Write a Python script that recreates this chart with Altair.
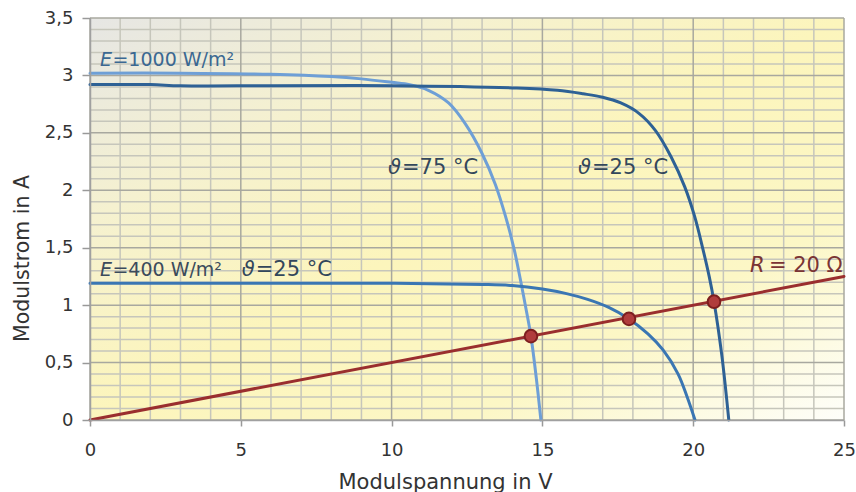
import altair as alt
import pandas as pd

# ---- data ----
# E = 1000 W/m², theta = 75 °C
u75 = [0, 3, 6, 8, 9, 10, 10.6, 11.22, 11.89, 12.44, 13.0, 13.44, 13.78, 14.06, 14.28, 14.44, 14.62, 14.8, 14.95]
i75 = [3.02, 3.02, 3.01, 2.99, 2.97, 2.94, 2.92, 2.87, 2.76, 2.58, 2.32, 2.05, 1.77, 1.49, 1.21, 0.99, 0.73, 0.36, 0.0]
# E = 1000 W/m², theta = 25 °C
u25 = [0, 2, 3, 6, 10, 14.15, 15.5, 16.35, 17.0, 17.6, 18.2, 18.75, 19.27, 19.72, 20.05, 20.32, 20.53, 20.69, 20.95, 21.18]
i25 = [2.92, 2.92, 2.91, 2.91, 2.91, 2.89, 2.87, 2.84, 2.81, 2.76, 2.67, 2.52, 2.29, 2.03, 1.77, 1.49, 1.25, 1.03, 0.56, 0.0]
# E = 400 W/m², theta = 25 °C
u400 = [0, 5, 10, 13, 14, 15, 15.8, 16.5, 17.2, 17.87, 18.5, 19.0, 19.5, 19.8, 20.06]
i400 = [1.19, 1.19, 1.19, 1.18, 1.17, 1.14, 1.10, 1.05, 0.98, 0.88, 0.75, 0.61, 0.40, 0.20, 0.0]
# load line R = 20 Ohm
u_r = [0, 25]
i_r = [0, 1.25]
# operating points
u_op = [14.62, 17.87, 20.69]
i_op = [0.73, 0.88, 1.03]

# tick / grid values
x_major = [0, 5, 10, 15, 20, 25]
x_minor = [v for v in range(0, 26) if v % 5 != 0]
y_major = [0, 0.5, 1, 1.5, 2, 2.5, 3, 3.5]
y_minor = [round(k * 0.1, 1) for k in range(0, 36) if k % 5 != 0]

# annotations
ann_e_u = [0.33, 0.33]
ann_e_i = [3.13, 1.305]
ann_e_rest = ["=1000  W/m²", "=400 W/m²"]
ann_t_u = [5.03, 9.88, 16.18]
ann_t_i = [1.305, 2.19, 2.19]
ann_t_rest = ["=25 °C", "=75 °C", "=25 °C"]
ann_r_u = [21.88]
ann_r_i = [1.34]

W, H = 754, 402
FONT = "DejaVu Sans"

xs = alt.Scale(domain=[0, 25], nice=False, zero=False)
ys = alt.Scale(domain=[0, 3.5], nice=False, zero=False)

x_axis = alt.Axis(
    values=x_major,
    title="Modulspannung in V",
    grid=False,
    tickColor="#999999",
    tickSize=6,
    tickWidth=1.5,
    domainColor="#a0a0a0",
    domainWidth=1.5,
    labelOverlap=False,
    labelFlush=False,
    labelFont=FONT,
    labelFontSize=18,
    labelColor="#333333",
    labelPadding=15,
    titleFont=FONT,
    titleFontSize=21,
    titleFontWeight="normal",
    titleColor="#333333",
    titlePadding=12,
    titleX=355,
    zindex=1,
)
y_axis = alt.Axis(
    values=y_major,
    title="Modulstrom in A",
    labelExpr="replace(format(datum.value, '~g'), '.', ',')",
    grid=False,
    tickColor="#999999",
    tickSize=8,
    tickWidth=1.5,
    domainColor="#a0a0a0",
    domainWidth=1.5,
    labelOverlap=False,
    labelFlush=False,
    labelFont=FONT,
    labelFontSize=18,
    labelColor="#333333",
    labelPadding=9,
    titleFont=FONT,
    titleFontSize=20.5,
    titleFontWeight="normal",
    titleColor="#333333",
    titlePadding=12,
    titleY=240,
    zindex=1,
)

X = alt.X("U:Q", scale=xs)
Y = alt.Y("I:Q", scale=ys)


def line(u, i, color, width=3):
    df = pd.DataFrame({"U": u, "I": i})
    return alt.Chart(df).mark_line(
        color=color, strokeWidth=width, interpolate="catmull-rom", strokeCap="round"
    ).encode(x=X, y=Y)


def text(u, i, t, size, color, style="normal", dx=0):
    df = pd.DataFrame({"U": u, "I": i, "t": t})
    return alt.Chart(df).mark_text(
        align="left", baseline="middle", font=FONT, fontSize=size,
        fontStyle=style, color=color, dx=dx
    ).encode(x=X, y=Y, text="t:N")


def vgrid(vals, color):
    return alt.Chart(pd.DataFrame({"U": vals})).mark_rule(
        color=color, strokeWidth=1.5
    ).encode(x=X)


def hgrid(vals, color):
    return alt.Chart(pd.DataFrame({"I": vals})).mark_rule(
        color=color, strokeWidth=1.5
    ).encode(y=Y)


bg = alt.LinearGradient(
    gradient="linear", x1=0, y1=0, x2=1, y2=1,
    stops=[
        alt.GradientStop(offset=0.0, color="#e6e6e4"),
        alt.GradientStop(offset=0.25, color="#f5f1d0"),
        alt.GradientStop(offset=0.5, color="#fcf5bc"),
        alt.GradientStop(offset=0.75, color="#fcf7c6"),
        alt.GradientStop(offset=1.0, color="#fefefa"),
    ],
)

background = alt.Chart(pd.DataFrame({"U": [0], "U2": [25], "I": [0], "I2": [3.5]})).mark_rect(
    color=bg
).encode(
    x=alt.X("U:Q", scale=xs, axis=x_axis), x2="U2:Q",
    y=alt.Y("I:Q", scale=ys, axis=y_axis), y2="I2:Q",
)

MINOR = "#c6c6bb"
MAJOR = "#a8a89f"

c75 = line(u75, i75, "#6e9fd6")
c25 = line(u25, i25, "#2e6195")
c400 = line(u400, i400, "#3a76b3")
cr = line(u_r, i_r, "#9a2e2e")

pts = alt.Chart(pd.DataFrame({"U": u_op, "I": i_op})).mark_point(
    filled=True, size=160, color="#b03c3c", stroke="#7d1f1f", strokeWidth=2, opacity=1
).encode(x=X, y=Y)

e_col = ["#3b6892", "#3b4b5c"]
t_e1 = text(ann_e_u[:1], ann_e_i[:1], ["E"], 19, e_col[0], "italic")
t_e1r = text(ann_e_u[:1], ann_e_i[:1], ann_e_rest[:1], 19, e_col[0], dx=12.5)
t_e2 = text(ann_e_u[1:], ann_e_i[1:], ["E"], 19, e_col[1], "italic")
t_e2r = text(ann_e_u[1:], ann_e_i[1:], ann_e_rest[1:], 19, e_col[1], dx=12.5)
t_th = text(ann_t_u, ann_t_i, ["ϑ"] * 3, 21, "#33475b", "italic")
t_thr = text(ann_t_u, ann_t_i, ann_t_rest, 21, "#33475b", dx=14)
t_r = text(ann_r_u, ann_r_i, ["R"], 21, "#7a3434", "italic")
t_rr = text(ann_r_u, ann_r_i, ["= 20 Ω"], 21, "#7a3434", dx=19)

chart = alt.layer(
    background,
    vgrid(x_minor, MINOR), hgrid(y_minor, MINOR),
    vgrid(x_major, MAJOR), hgrid(y_major, MAJOR),
    c75, c25, c400, cr, pts,
    t_e1, t_e1r, t_e2, t_e2r, t_th, t_thr, t_r, t_rr,
).properties(
    width=W, height=H,
    autosize=alt.AutoSizeParams(type="none"),
    padding={"left": 90, "top": 18, "right": 12, "bottom": 72},
    background="white",
).configure_view(
    stroke=None
)

chart.save("out.html", embed_options={"renderer": "svg", "actions": False})
